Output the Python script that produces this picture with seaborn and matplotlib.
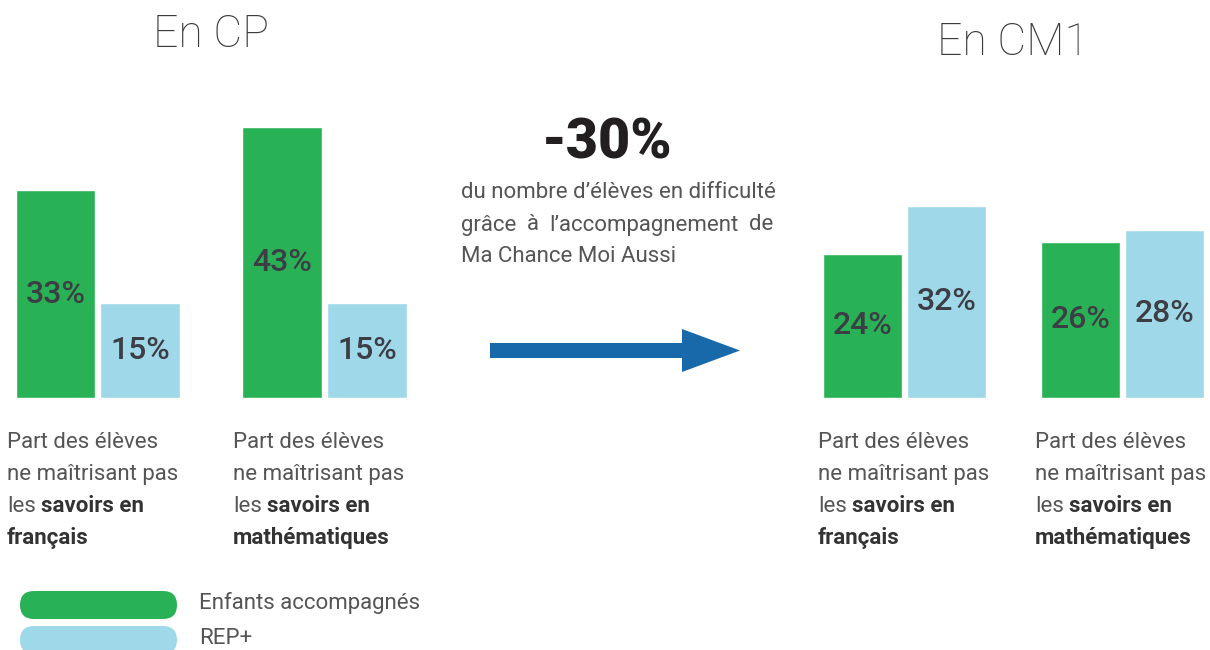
import matplotlib
matplotlib.use("Agg")
import pandas as pd
import seaborn as sns
import matplotlib.pyplot as plt
from matplotlib.patches import FancyArrow, FancyBboxPatch

# Data
subjects = ["français", "mathématiques"]
groups = ["Enfants accompagnés", "REP+"]
cp_accomp = [33, 43]
cp_rep = [15, 15]
cm1_accomp = [24, 26]
cm1_rep = [32, 28]

colors = {"Enfants accompagnés": "#28b255", "REP+": "#9fd9e9"}
label_col = "#3d3d45"
text_col = "#555555"
bold_col = "#333333"

sns.set_theme(style="white")
plt.rcParams["font.family"] = ["Roboto", "DejaVu Sans"]


def make_df(accomp, rep):
    rows = []
    for s, a, r in zip(subjects, accomp, rep):
        rows.append({"matiere": s, "groupe": groups[0], "part": a})
        rows.append({"matiere": s, "groupe": groups[1], "part": r})
    return pd.DataFrame(rows)


fig = plt.figure(figsize=(12.1, 6.5), dpi=100)

# overlay in pixel coordinates for text / decorations
bg = fig.add_axes([0, 0, 1, 1])
bg.set_xlim(0, 1210)
bg.set_ylim(650, 0)
bg.axis("off")

W, H = 1210, 650
base = 398
ax_h = 300

panels = [
    (make_df(cp_accomp, cp_rep), 13, 397, 0.75, (-0.375, 1.378), 47.6),
    (make_df(cm1_accomp, cm1_rep), 820, 387, 0.775, (-0.3876, 1.3876), 50.0),
]
for df, left, width, bw, xl, ytop in panels:
    ax = fig.add_axes([left / W, (H - base) / H, width / W, ax_h / H])
    sns.barplot(data=df, x="matiere", y="part", hue="groupe", palette=colors,
                width=bw, gap=0.06, saturation=1, legend=False, ax=ax)
    ax.set_xlim(*xl)
    ax.set_ylim(0, ytop)
    ax.axis("off")
    for cont in ax.containers:
        ax.bar_label(cont, labels=[f"{v:.0f}%" for v in cont.datavalues],
                     label_type="center", fontsize=23, color=label_col,
                     fontweight="medium", padding=0)

# titles
bg.text(211, 35, "En CP", ha="center", va="center", fontsize=32,
        fontweight="light", color="#3a3a3a")
bg.text(1013, 43, "En CM1", ha="center", va="center", fontsize=32,
        fontweight="light", color="#3a3a3a")

# central message
bg.text(607, 143, "-30%", ha="center", va="center", fontsize=40,
        fontweight="black", color="#231f20")
para_kw = dict(fontsize=16, fontweight="normal", color=text_col, va="center")
bg.text(461, 192, "du nombre d’élèves en difficulté", ha="left", **para_kw)
bg.text(461, 257, "Ma Chance Moi Aussi", ha="left", **para_kw)

# justified second line
words = ["grâce", "à", "l’accompagnement", "de"]
renderer = fig.canvas.get_renderer()
arts = [bg.text(0, 225, w, ha="left", **para_kw) for w in words]
widths = [a.get_window_extent(renderer).width for a in arts]
space = (773 - 461 - sum(widths)) / (len(words) - 1)
xpos = 461
for a, w in zip(arts, widths):
    a.set_x(xpos)
    xpos += w + space

bg.add_patch(FancyArrow(490, 350.5, 250, 0, width=15, head_width=43,
                        head_length=58, length_includes_head=True,
                        color="#1769aa", lw=0))

# captions under bars
cap_kw = dict(fontsize=16, va="bottom")
for x0, subj in [(7, subjects[0]), (233, subjects[1]),
                 (818, subjects[0]), (1035, subjects[1])]:
    bg.text(x0, 453, "Part des élèves", fontweight="normal", color=text_col, **cap_kw)
    bg.text(x0, 485, "ne maîtrisant pas", fontweight="normal", color=text_col, **cap_kw)
    t = bg.text(x0, 517, "les", fontweight="normal", color=text_col, **cap_kw)
    bg.annotate("savoirs en", xy=(1, 0), xycoords=t, xytext=(4, 0),
                textcoords="offset points", fontweight="bold", color=bold_col,
                ha="left", **cap_kw)
    bg.text(x0, 549, subj, fontweight="bold", color=bold_col, **cap_kw)

# legend
for y0, g in [(591, groups[0]), (626, groups[1])]:
    bg.add_patch(FancyBboxPatch((20, y0), 157, 28,
                                boxstyle="round,pad=0,rounding_size=14",
                                fc=colors[g], ec="none", clip_on=False))
    bg.text(199, y0 + 12, g, fontsize=16, fontweight="normal", color=text_col,
            va="center", ha="left")

fig.savefig("out.png", dpi=100)
